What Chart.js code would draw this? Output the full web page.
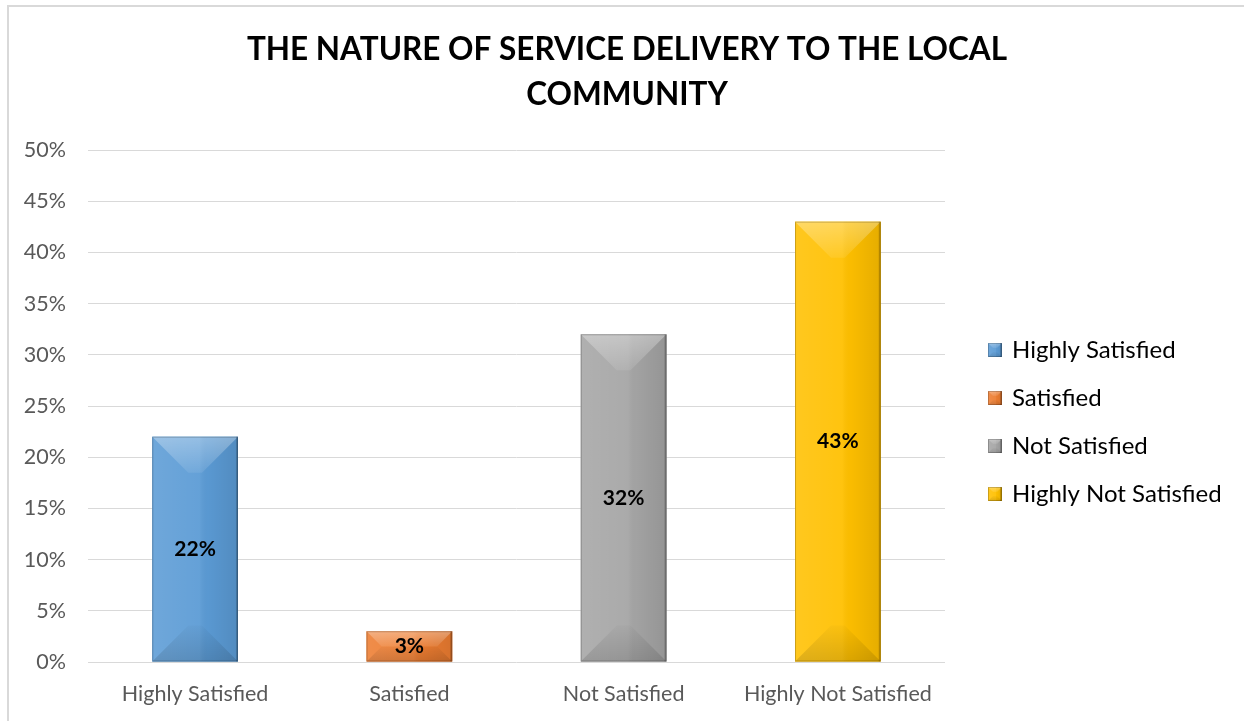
<!DOCTYPE html>
<html>
<head>
<meta charset="utf-8">
<title>Service delivery</title>
<script src="https://cdn.jsdelivr.net/npm/chart.js@4.4.1/dist/chart.umd.min.js"></script>
<style>
  html, body { margin: 0; padding: 0; background: #fff; overflow: hidden; }
  #frame { position: absolute; left: 7px; top: 5px; width: 1300px; height: 800px; border: 2px solid #d9d9d9; }
  #wrap { position: absolute; left: 0; top: 0; width: 1244px; height: 721px; }
</style>
</head>
<body>
<div id="frame"></div>
<div id="wrap"><canvas id="chart" width="1244" height="721"></canvas></div>
<script>
const FONT = 'Lato';
const LEGEND_SIZE = 24;

const titleLines = ['THE NATURE OF SERVICE DELIVERY TO THE LOCAL', 'COMMUNITY'];
const categories = ['Highly Satisfied', 'Satisfied', 'Not Satisfied', 'Highly Not Satisfied'];
const percentages = [22, 3, 32, 43];
const yTickValues = [0, 5, 10, 15, 20, 25, 30, 35, 40, 45, 50];
const barColors = ['#5b9bd5', '#ed7d31', '#a5a5a5', '#ffc000'];

function facet(ctx, pts) {
    ctx.beginPath();
    ctx.moveTo(pts[0][0], pts[0][1]);
    for (let i = 1; i < pts.length; i++) ctx.lineTo(pts[i][0], pts[i][1]);
    ctx.closePath();
}

// Excel-like "angle" bevel: shaded body plus light top / dark bottom facets
function drawBevel(ctx, l, t, r, b, color, depth) {
    const w = r - l, h = b - t;
    const d = Math.min(depth, w / 2, h / 2);
    ctx.save();
    ctx.fillStyle = color;
    ctx.fillRect(l, t, w, h);

    let g = ctx.createLinearGradient(l, 0, r, 0);
    g.addColorStop(0, 'rgba(255,255,255,0.12)');
    g.addColorStop(0.55, 'rgba(255,255,255,0.06)');
    g.addColorStop(0.65, 'rgba(0,0,0,0.02)');
    g.addColorStop(1, 'rgba(0,0,0,0.1)');
    ctx.fillStyle = g;
    ctx.fillRect(l, t, w, h);

    facet(ctx, [[l, t], [r, t], [r - d, t + d], [l + d, t + d]]);
    g = ctx.createLinearGradient(0, t, 0, t + d);
    g.addColorStop(0, 'rgba(255,255,255,0.32)');
    g.addColorStop(1, 'rgba(255,255,255,0.08)');
    ctx.fillStyle = g;
    ctx.fill();

    facet(ctx, [[l, b], [r, b], [r - d, b - d], [l + d, b - d]]);
    g = ctx.createLinearGradient(0, b - d, 0, b);
    g.addColorStop(0, 'rgba(0,0,0,0.02)');
    g.addColorStop(1, 'rgba(0,0,0,0.13)');
    ctx.fillStyle = g;
    ctx.fill();

    ctx.strokeStyle = 'rgba(0,0,0,0.2)';
    ctx.lineWidth = 1;
    ctx.strokeRect(l + 0.5, t + 0.5, w - 1, h - 1);
    ctx.fillStyle = 'rgba(0,0,0,0.18)';
    ctx.fillRect(r - 2, t, 2, h);
    ctx.restore();
}

// small bevelled squares for the legend
const markers = barColors.map(c => {
    const cv = document.createElement('canvas');
    cv.width = 14;
    cv.height = 14;
    drawBevel(cv.getContext('2d'), 0, 0, 14, 14, c, 5);
    return cv;
});

// legend width -> right padding so the plot stops at x = 945
const probe = document.createElement('canvas').getContext('2d');
probe.font = `${LEGEND_SIZE}px ${FONT}`;
const legendTextWidth = Math.max(...categories.map(c => probe.measureText(c).width));
const legendWidth = 24 + 10 + LEGEND_SIZE / 2 + legendTextWidth + 10;
const rightPad = Math.max(0, 1244 - 945 - 21 - legendWidth);
// left padding keeps the title a little right of the canvas centre
const leftPad = rightPad + 10;

const barDecor = {
    id: 'barDecor',
    afterDatasetsDraw(chart) {
        const ctx = chart.ctx;
        const meta = chart.getDatasetMeta(0);
        meta.data.forEach((bar, i) => {
            const { x, y, base, width } = bar.getProps(['x', 'y', 'base', 'width'], true);
            drawBevel(ctx, x - width / 2, y, x + width / 2, base, barColors[i], 36);
            ctx.save();
            ctx.font = `bold 21px ${FONT}`;
            ctx.fillStyle = '#000';
            ctx.textAlign = 'center';
            ctx.textBaseline = 'middle';
            ctx.fillText(percentages[i] + '%', x, (y + base) / 2);
            ctx.restore();
        });
    }
};

new Chart(document.getElementById('chart'), {
    type: 'bar',
    data: {
        labels: categories,
        datasets: [{
            data: percentages,
            backgroundColor: barColors,
            borderWidth: 0,
            categoryPercentage: 1,
            barPercentage: 0.4
        }]
    },
    options: {
        responsive: false,
        animation: false,
        layout: { padding: { left: leftPad, right: rightPad, top: 0, bottom: 0 } },
        plugins: {
            title: {
                display: true,
                text: titleLines,
                color: '#000',
                font: { family: FONT, size: 31.5, weight: 'bold', lineHeight: 45 / 31.5 },
                padding: { top: 27.5, bottom: 32.5 }
            },
            legend: {
                position: 'right',
                fullSize: false,
                maxWidth: 400,
                title: { display: true, text: ' ', font: { size: 24, lineHeight: 1 }, padding: 4 },
                labels: {
                    usePointStyle: true,
                    boxWidth: 10,
                    boxHeight: 14,
                    padding: 24,
                    color: '#000',
                    font: { family: FONT, size: LEGEND_SIZE },
                    generateLabels: () => categories.map((c, i) => ({
                        text: c,
                        fontColor: '#000',
                        pointStyle: markers[i],
                        fillStyle: barColors[i],
                        strokeStyle: barColors[i],
                        lineWidth: 0,
                        hidden: false,
                        index: i
                    }))
                },
                onClick: null
            },
            tooltip: { enabled: false }
        },
        scales: {
            x: {
                grid: { display: false },
                border: { display: false },
                ticks: { color: '#595959', font: { family: FONT, size: 21.5 }, padding: 11 },
                afterFit: s => { s.height = 59; }
            },
            y: {
                min: 0,
                max: 50,
                afterBuildTicks: s => { s.ticks = yTickValues.map(v => ({ value: v })); },
                grid: { color: '#d9d9d9', drawTicks: false },
                border: { display: false },
                ticks: { color: '#595959', font: { family: FONT, size: 21.5 }, padding: 22, callback: v => v + '%' },
                afterFit: s => { s.width = 88 - leftPad; }
            },
            // empty spacer between the plot and the legend
            gap: {
                position: 'right',
                grid: { display: false, drawTicks: false },
                border: { display: false },
                ticks: { display: false },
                afterFit: s => { s.width = 21; }
            }
        }
    },
    plugins: [barDecor]
});
</script>
</body>
</html>
